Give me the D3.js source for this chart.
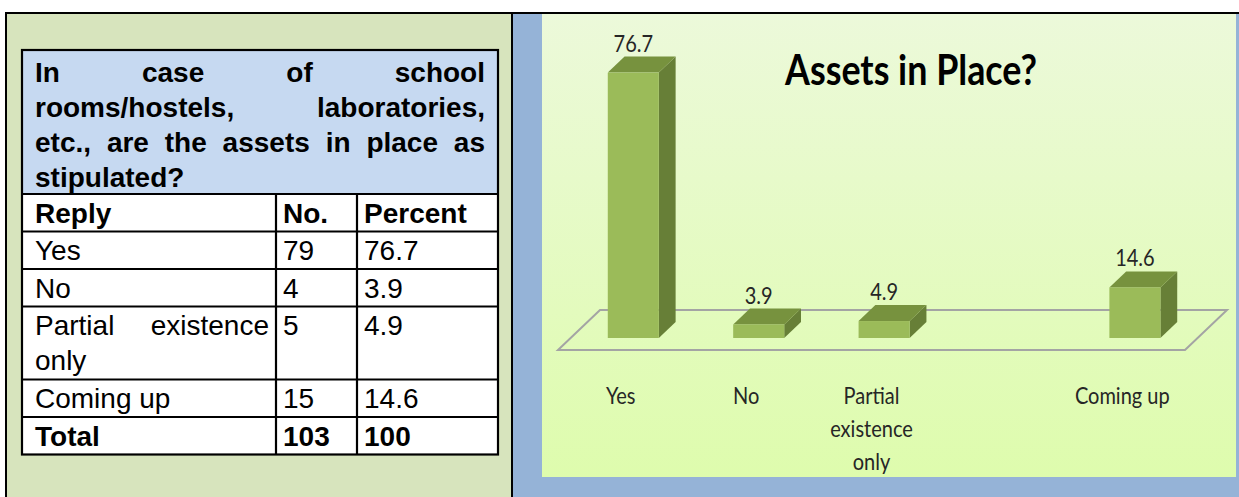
<!DOCTYPE html>
<html><head><meta charset="utf-8">
<script src="https://cdn.jsdelivr.net/npm/d3@7"></script>
<style>html,body{margin:0;padding:0;background:#fff;overflow:hidden}</style>
</head><body><svg id="c" width="1239" height="497"></svg>
<script>
// ---------- data ----------
const questionLines = ["In case of school", "rooms/hostels, laboratories,", "etc., are the assets in place as", "stipulated?"];
const tableHeaders = ["Reply", "No.", "Percent"];
const replyLines = [["Yes"], ["No"], ["Partial existence", "only"], ["Coming up"]];
const counts = [79, 4, 5, 15];
const percents = ["76.7", "3.9", "4.9", "14.6"];
const totalRow = ["Total", "103", "100"];

const chartTitle = "Assets in Place?";
const chartCategories = ["Yes", "No", "Partial existence only", " ", "Coming up"];
const chartLabelLines = [["Yes"], ["No"], ["Partial", "existence", "only"], [], ["Coming up"]];
const chartValues = [76.7, 3.9, 4.9, null, 14.6];

// ---------- setup ----------
const svg = d3.select("#c");
const defs = svg.append("defs");
const tableFont = "'Liberation Sans', Arial, sans-serif";
const chartFont = "Lato, 'Open Sans', sans-serif";

// left panel
svg.append("rect").attr("x", 6).attr("y", 13).attr("width", 506).attr("height", 484).attr("fill", "#d7e4bd");
// right panel frame
svg.append("rect").attr("x", 513).attr("y", 13).attr("width", 726).attr("height", 484).attr("fill", "#95b3d7");
const grad = defs.append("linearGradient").attr("id", "bg").attr("x1", 0).attr("y1", 0).attr("x2", 0).attr("y2", 1);
grad.append("stop").attr("offset", "0%").attr("stop-color", "#ecf9da");
grad.append("stop").attr("offset", "100%").attr("stop-color", "#defcad");
const plot = {x: 542, y: 14, w: 694, h: 463};
svg.append("rect").attr("x", plot.x).attr("y", plot.y).attr("width", plot.w).attr("height", plot.h).attr("fill", "url(#bg)");
defs.append("clipPath").attr("id", "pclip").append("rect")
  .attr("x", plot.x).attr("y", plot.y).attr("width", plot.w).attr("height", plot.h);

// frame lines
svg.append("line").attr("x1", 5).attr("x2", 1239).attr("y1", 13).attr("y2", 13).attr("stroke", "#000").attr("stroke-width", 2);
svg.append("line").attr("x1", 6).attr("x2", 6).attr("y1", 12).attr("y2", 497).attr("stroke", "#000").attr("stroke-width", 2);
svg.append("line").attr("x1", 512).attr("x2", 512).attr("y1", 12).attr("y2", 497).attr("stroke", "#000").attr("stroke-width", 2);

// ---------- table ----------
const colX = [22, 276, 357, 498];
const pad = 13;
const fs = 28;
const firstBase = 28.5, lineStep = 35;

function measure(txt, weight) {
  const t = svg.append("text").attr("font-family", tableFont).attr("font-size", fs).attr("font-weight", weight).text(txt);
  const w = t.node().getComputedTextLength(); t.remove(); return w;
}
function drawLine(g, txt, x0, x1, y, weight, justify) {
  const words = txt.split(" ");
  if (!justify || words.length < 2) {
    g.append("text").attr("x", x0).attr("y", y).attr("font-family", tableFont).attr("font-size", fs)
      .attr("font-weight", weight).attr("fill", "#000").text(txt);
    return;
  }
  const widths = words.map(w => measure(w, weight));
  const sum = d3.sum(widths);
  const minGap = fs * 0.25;
  let k = 1, gap = (x1 - x0 - sum) / (words.length - 1);
  if (gap < minGap) { k = (x1 - x0) / (sum + minGap * (words.length - 1)); gap = minGap; }
  const lg = g.append("g").attr("transform", `translate(${x0},${y}) scale(${k},1)`);
  let cx = 0;
  words.forEach((w, i) => {
    lg.append("text").attr("x", cx).attr("y", 0).attr("font-family", tableFont).attr("font-size", fs)
      .attr("font-weight", weight).attr("fill", "#000").text(w);
    cx += widths[i] + gap;
  });
}

const tg = svg.append("g");
const headerTop = 50, headerH = 36 * questionLines.length;
const rows = [
  {cells: [tableHeaders[0], tableHeaders[1], tableHeaders[2]].map(s => [s]), bold: true},
  ...replyLines.map((r, i) => ({cells: [r, [String(counts[i])], [percents[i]]], bold: false})),
  {cells: totalRow.map(s => [s]), bold: true}
];
let yCur = headerTop + headerH;
rows.forEach(r => { const n = d3.max(r.cells, c => c.length); r.y0 = yCur; r.h = 37.5 + (n - 1) * 35.5; yCur += r.h; });
const tableBottom = yCur;

tg.append("rect").attr("x", colX[0]).attr("y", headerTop).attr("width", colX[3] - colX[0]).attr("height", headerH).attr("fill", "#c6d9f1");
tg.append("rect").attr("x", colX[0]).attr("y", headerTop + headerH).attr("width", colX[3] - colX[0]).attr("height", tableBottom - headerTop - headerH).attr("fill", "#fff");

questionLines.forEach((ln, i) => {
  drawLine(tg, ln, colX[0] + pad, colX[3] - pad, headerTop + 32 + i * 35, "bold", i < questionLines.length - 1);
});
rows.forEach(r => {
  r.cells.forEach((lines, ci) => {
    lines.forEach((ln, li) => {
      drawLine(tg, ln, colX[ci] + (ci === 0 ? pad : 7), colX[ci + 1] - 7, r.y0 + firstBase + li * lineStep,
        r.bold ? "bold" : "normal", ci === 0 && li < lines.length - 1);
    });
  });
});
const lineAttr = s => s.attr("stroke", "#000").attr("stroke-width", 2.2);
tg.append("rect").attr("x", colX[0]).attr("y", headerTop).attr("width", colX[3] - colX[0]).attr("height", tableBottom - headerTop)
  .attr("fill", "none").call(lineAttr);
rows.forEach(r => tg.append("line").attr("x1", colX[0]).attr("x2", colX[3]).attr("y1", r.y0).attr("y2", r.y0).call(lineAttr));
[colX[1], colX[2]].forEach(x => tg.append("line").attr("x1", x).attr("x2", x).attr("y1", headerTop + headerH).attr("y2", tableBottom).call(lineAttr));

// ---------- 3D bar chart ----------
const cg = svg.append("g").attr("clip-path", "url(#pclip)");
const floor = {x0: 558, x1: 1185, y: 350, dx: 42, dy: -40};
const f0 = 0.3, f1 = 0.7;
const x = d3.scaleBand().domain(chartCategories).range([floor.x0, floor.x1]).paddingInner(0.593).paddingOuter(0.2965);
const h = d3.scaleLinear().domain([0, 80]).range([0, 276.8]);
const bw = x.bandwidth();
const baseY = floor.y + f0 * floor.dy;
const ddx = (f1 - f0) * floor.dx, ddy = (f1 - f0) * floor.dy;
const labelSize = 23, squish = 0.87;

cg.append("path")
  .attr("d", `M${floor.x0},${floor.y}L${floor.x1},${floor.y}L${floor.x1 + floor.dx},${floor.y + floor.dy}L${floor.x0 + floor.dx},${floor.y + floor.dy}Z`)
  .attr("fill", "none").attr("stroke", "#a4a4a4").attr("stroke-width", 2);

const data = chartCategories.map((c, i) => ({c, v: chartValues[i], lines: chartLabelLines[i]}));
const bars = cg.selectAll("g.bar").data(data.filter(d => d.v != null)).join("g").attr("class", "bar");
bars.each(function (d) {
  const g = d3.select(this);
  const xl = x(d.c) + f0 * floor.dx, xr = xl + bw, hv = h(d.v), yt = baseY - hv;
  g.append("path").attr("d", `M${xr},${baseY}L${xr + ddx},${baseY + ddy}L${xr + ddx},${yt + ddy}L${xr},${yt}Z`).attr("fill", "#677f37");
  g.append("path").attr("d", `M${xl},${yt}L${xr},${yt}L${xr + ddx},${yt + ddy}L${xl + ddx},${yt + ddy}Z`).attr("fill", "#77923e");
  g.append("rect").attr("x", xl).attr("y", yt).attr("width", bw).attr("height", hv).attr("fill", "#9bbb59");
  g.append("g").attr("transform", `translate(${xl + bw / 2},${yt + ddy - 5}) scale(${squish},1)`)
    .append("text").attr("text-anchor", "middle").attr("font-family", chartFont).attr("font-size", labelSize)
    .attr("fill", "#262626").text(d.v);
});

data.forEach(d => {
  d.lines.forEach((ln, li) => {
    cg.append("g").attr("transform", `translate(${x(d.c) + bw / 2},${404 + li * 33}) scale(${squish},1)`)
      .append("text").attr("text-anchor", "middle").attr("font-family", chartFont).attr("font-size", labelSize)
      .attr("fill", "#262626").text(ln);
  });
});

cg.append("text").attr("x", 785).attr("y", 85).attr("font-family", chartFont).attr("font-size", 42)
  .attr("font-weight", "bold").attr("fill", "#000")
  .attr("textLength", 252).attr("lengthAdjust", "spacingAndGlyphs").text(chartTitle);
</script></body></html>
